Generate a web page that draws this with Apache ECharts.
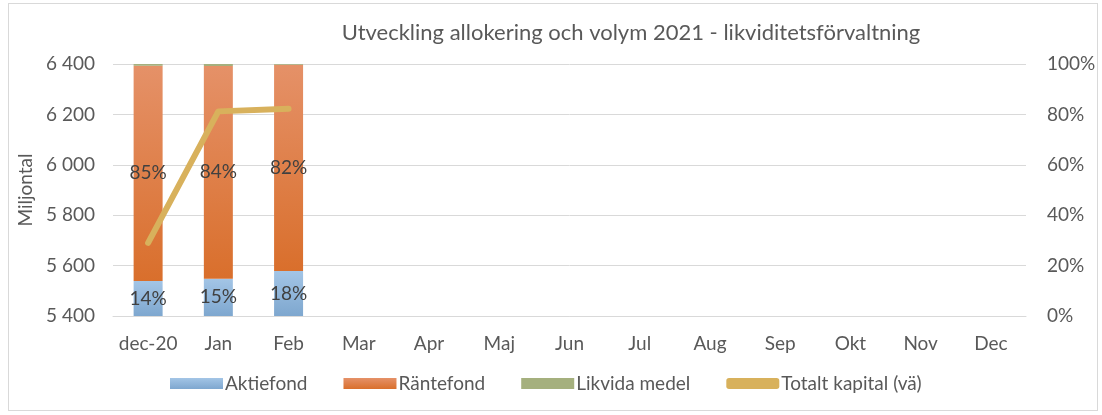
<!DOCTYPE html>
<html>
<head>
<meta charset="utf-8">
<script src="https://cdn.jsdelivr.net/npm/echarts@6/dist/echarts.min.js"></script>
<style>
  html, body { margin: 0; padding: 0; background: #fff; }
  #chart { width: 1102px; height: 415px; }
  .frame { position: absolute; left: 8px; top: 3px; width: 1088px; height: 406px; border: 1px solid #d9d9d9; pointer-events: none; }
</style>
</head>
<body>
<div id="chart"></div>
<div class="frame"></div>
<script>
// kategorier och värden
const categories = ['dec-20', 'Jan', 'Feb', 'Mar', 'Apr', 'Maj', 'Jun', 'Jul', 'Aug', 'Sep', 'Okt', 'Nov', 'Dec']
const aktiefond = [13.9, 14.8, 17.9]      // andel, %
const rantefond = [85.4, 84.4, 81.8]      // andel, %
const likvida = [0.7, 0.8, 0.3]           // andel, %
const totaltKapital = [5690, 6212, 6222]  // Mkr, vänster axel

const textColor = '#595959'
const fontFamily = 'Lato, "Open Sans", sans-serif'
const gridColor = '#d9d9d9'

const fmtSpace = (v) => String(v).replace(/\B(?=(\d{3})+(?!\d))/g, ' ')

const chart = echarts.init(document.getElementById('chart'))

const barLabel = {
  show: true,
  position: 'inside',
  color: '#404040',
  fontSize: 19,
  fontFamily,
  formatter: (p) => Math.round(p.value) + '%'
}

chart.setOption({
  animation: false,
  title: {
    text: 'Utveckling allokering och volym 2021 - likviditetsförvaltning',
    left: 626,
    textAlign: 'center',
    top: 17,
    textStyle: { color: textColor, fontSize: 22, fontWeight: 'normal', fontFamily }
  },
  legend: {
    top: 369,
    left: 165,
    itemGap: 36,
    itemWidth: 53,
    itemHeight: 11,
    textStyle: { color: textColor, fontSize: 19, fontFamily, padding: [0, 0, 0, -3] },
    data: [
      { name: 'Aktiefond', icon: 'rect' },
      { name: 'Räntefond', icon: 'rect' },
      { name: 'Likvida medel', icon: 'rect' },
      { name: 'Totalt kapital (vä)', icon: 'roundRect' }
    ]
  },
  grid: { left: 113, right: 76, top: 64, bottom: 99 },
  xAxis: {
    type: 'category',
    data: categories,
    axisTick: { show: false },
    axisLine: { lineStyle: { color: gridColor } },
    axisLabel: { color: textColor, fontSize: 19, fontFamily, margin: 18, interval: 0, hideOverlap: false }
  },
  yAxis: [
    {
      type: 'value',
      min: 5400,
      max: 6400,
      interval: 200,
      name: 'Miljontal',
      nameLocation: 'middle',
      nameRotate: 90,
      nameGap: 74,
      nameTextStyle: { color: textColor, fontSize: 19, fontFamily },
      axisLabel: { color: textColor, fontSize: 19, fontFamily, margin: 18, formatter: fmtSpace },
      splitLine: { lineStyle: { color: gridColor } }
    },
    {
      type: 'value',
      min: 0,
      max: 100,
      interval: 20,
      position: 'right',
      axisLabel: { color: textColor, fontSize: 19, fontFamily, margin: 21, formatter: '{value}%' },
      splitLine: { show: false }
    }
  ],
  series: [
    {
      name: 'Aktiefond',
      type: 'bar',
      stack: 'andel',
      yAxisIndex: 1,
      barWidth: 29,
      data: aktiefond,
      label: barLabel,
      itemStyle: {
        color: new echarts.graphic.LinearGradient(0, 0, 0, 1, [
          { offset: 0, color: '#a3c5e6' },
          { offset: 1, color: '#7ea7cf' }
        ])
      }
    },
    {
      name: 'Räntefond',
      type: 'bar',
      stack: 'andel',
      yAxisIndex: 1,
      barWidth: 29,
      data: rantefond,
      label: barLabel,
      itemStyle: {
        color: new echarts.graphic.LinearGradient(0, 0, 0, 1, [
          { offset: 0, color: '#e59168' },
          { offset: 1, color: '#d96f2c' }
        ])
      }
    },
    {
      name: 'Likvida medel',
      type: 'bar',
      stack: 'andel',
      yAxisIndex: 1,
      barWidth: 29,
      data: likvida,
      itemStyle: { color: '#a5b07e' }
    },
    {
      name: 'Totalt kapital (vä)',
      type: 'line',
      yAxisIndex: 0,
      data: totaltKapital,
      symbol: 'none',
      lineStyle: { color: '#d8b15c', width: 6, cap: 'round', join: 'round' },
      itemStyle: { color: '#d8b15c' },
      z: 5
    }
  ]
})
</script>
</body>
</html>
